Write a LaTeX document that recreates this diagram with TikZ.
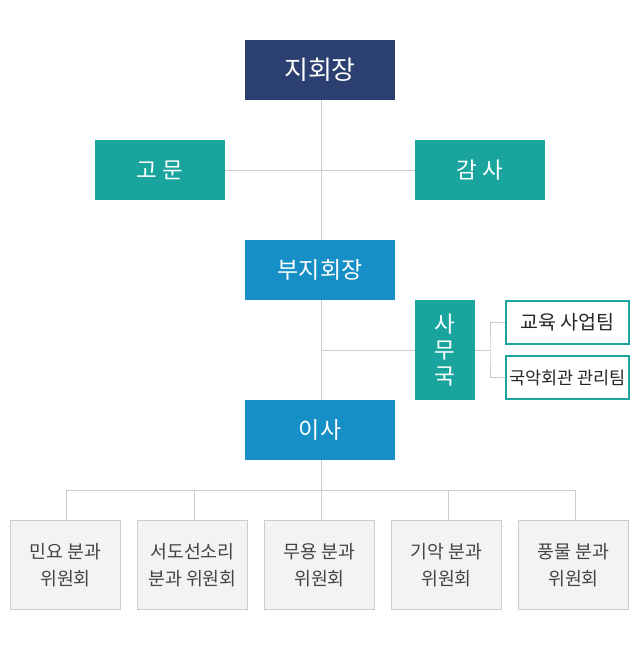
\documentclass[tikz,border=0pt]{standalone}
\usepackage{fontspec}
\setmainfont{Noto Sans CJK KR}
\definecolor{navy}{HTML}{2B3F71}
\definecolor{teal1}{HTML}{19A59E}
\definecolor{blue1}{HTML}{168EC6}
\definecolor{linec}{HTML}{CCCCCC}
\definecolor{boxg}{HTML}{F3F3F3}
\definecolor{txtg}{HTML}{444444}
\begin{document}
\begin{tikzpicture}[x=1pt,y=-1pt,
  topbox/.style={minimum width=150pt,minimum height=60pt,inner sep=0pt,text=white,font=\fontsize{23}{26}\selectfont},
  sidebox/.style={fill=teal1,minimum width=130pt,minimum height=60pt,inner sep=0pt,text=white,font=\fontsize{22.5}{26}\selectfont},
  teambox/.style={draw=teal1,line width=2pt,fill=white,minimum width=123pt,minimum height=43pt,inner sep=0pt,text=black!85,font=\fontsize{19.5}{22}\selectfont},
  combox/.style={draw=linec,line width=1pt,fill=boxg,minimum width=110pt,minimum height=89pt,inner sep=0pt,align=center,text=txtg,font=\fontsize{18.3}{27}\selectfont},
  conn/.style={draw=linec,line width=1pt}]
\useasboundingbox (0,0) rectangle (640,650);
% nodes
\node[topbox,fill=navy,font=\fontsize{26}{30}\selectfont] (head) at (320,70) {지회장};
\node[sidebox] (adv) at (160,170) {고 문};
\node[sidebox] (aud) at (480,170) {감 사};
\node[topbox,fill=blue1] (vice) at (320,270) {부지회장};
\node[fill=teal1,minimum width=60pt,minimum height=100pt,inner sep=0pt,text=white,align=center,font=\fontsize{22.5}{26}\selectfont] (office) at (445,350) {사\\무\\국};
\node[teambox] (edu) at (567.5,322.5) {교육 사업팀};
\node[teambox,font=\fontsize{17.5}{20}\selectfont] (hall) at (567.5,377.5) {국악회관 관리팀};
\node[topbox,fill=blue1] (dir) at (320,430) {이사};
\node[combox] (c1) at (65.5,565) {민요 분과\\위원회};
\node[combox] (c2) at (192.5,565) {서도선소리\\분과 위원회};
\node[combox] (c3) at (319.5,565) {무용 분과\\위원회};
\node[combox] (c4) at (446.5,565) {기악 분과\\위원회};
\node[combox] (c5) at (573.5,565) {풍물 분과\\위원회};
\coordinate (j1) at (321,170);
\coordinate (j2) at (321,350);
\coordinate (bus) at (321,490);
\coordinate (ob) at (490,350);
% connectors
\draw[conn] (321,100) -- (vice.north -| j1);
\draw[conn] (adv.east) -- (aud.west);
\draw[conn] (321,300) -- (dir.north -| j1);
\draw[conn] (j2) -- (office.west);
\draw[conn] (office.east) -- (ob);
\draw[conn] (edu.west) -| (ob) |- (hall.west);
\draw[conn] (321,460) -- (bus);
\draw[conn] (c1.north -| 66,0) |- (bus);
\draw[conn] (c5.north -| 575,0) |- (bus);
\draw[conn] (c2.north -| 194,0) -- (194,490);
\draw[conn] (c3.north -| 321,0) -- (321,490);
\draw[conn] (c4.north -| 448,0) -- (448,490);
\end{tikzpicture}
\end{document}
